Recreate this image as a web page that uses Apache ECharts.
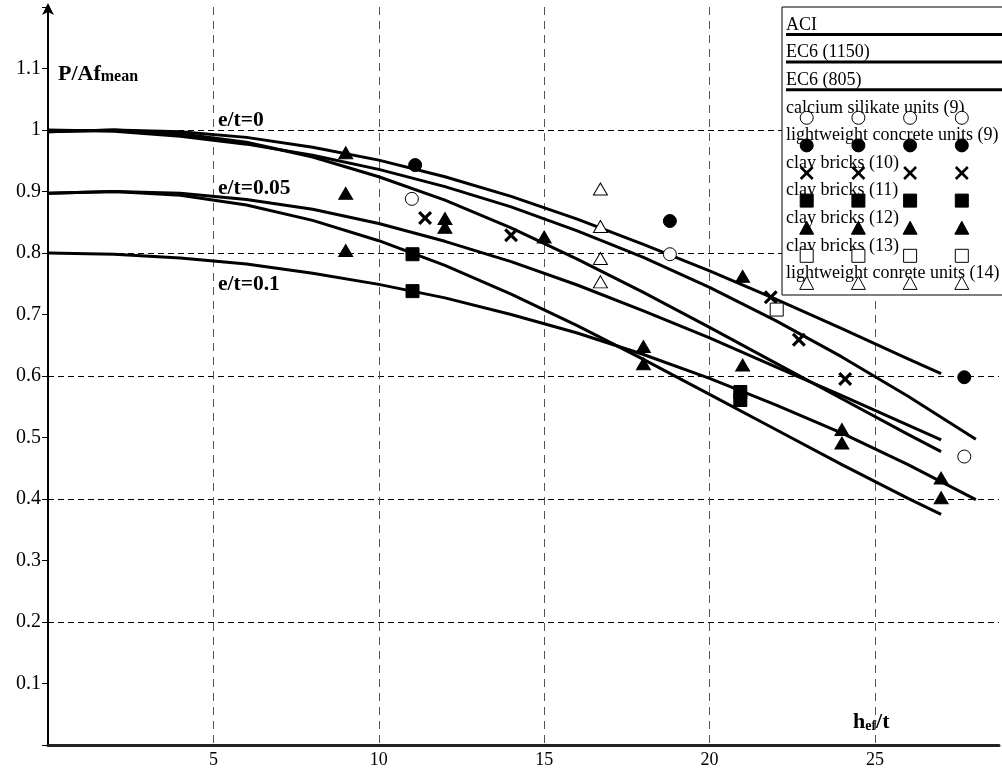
<!DOCTYPE html>
<html>
<head>
<meta charset="utf-8">
<script src="https://cdn.jsdelivr.net/npm/echarts@6/dist/echarts.min.js"></script>
<style>
html, body { margin: 0; padding: 0; background: #fff; }
#main { width: 1002px; height: 771px; }
</style>
</head>
<body>
<div id="main"></div>
<script>
// design curves, x = h_ef/t, y = P/Af_mean
var curveX = [0, 2, 4, 6, 8, 10, 12, 14, 16, 18, 20, 22, 24, 26, 27];
var curveXLong = [0, 2, 4, 6, 8, 10, 12, 14, 16, 18, 20, 22, 24, 26, 28.05];

var ec6_1150_e0 = [0.997, 1.0, 0.997, 0.988, 0.972, 0.951, 0.924, 0.892, 0.855, 0.814, 0.771, 0.725, 0.677, 0.628, 0.604];
var aci_e0 = [1.0, 0.998, 0.99, 0.977, 0.959, 0.936, 0.908, 0.875, 0.836, 0.793, 0.744, 0.69, 0.631, 0.567, 0.497];
var ec6_805_e0 = [0.997, 1.0, 0.994, 0.98, 0.956, 0.924, 0.886, 0.841, 0.79, 0.736, 0.679, 0.621, 0.563, 0.505, 0.477];
var ec6_1150_e005 = [0.897, 0.9, 0.897, 0.887, 0.871, 0.848, 0.819, 0.786, 0.748, 0.706, 0.662, 0.615, 0.568, 0.52, 0.496];
var ec6_805_e005 = [0.897, 0.9, 0.894, 0.878, 0.853, 0.82, 0.78, 0.733, 0.682, 0.627, 0.57, 0.513, 0.456, 0.401, 0.375];
var aci_e01 = [0.8, 0.798, 0.792, 0.782, 0.767, 0.749, 0.727, 0.7, 0.67, 0.635, 0.596, 0.553, 0.507, 0.456, 0.399];

// test results
var calciumSilicate9 = [[11.0, 0.888], [18.8, 0.798], [27.7, 0.469]];
var lightweightConcrete9 = [[11.1, 0.943], [18.8, 0.852], [27.7, 0.598]];
var clayBricks10 = [[11.4, 0.857], [14.0, 0.829], [21.85, 0.728], [22.7, 0.659], [24.1, 0.595]];
var clayBricks11 = [[11.02, 0.798], [11.02, 0.738], [20.93, 0.574], [20.93, 0.561]];
var clayBricks12 = [[9.0, 0.963], [9.0, 0.897], [9.0, 0.804], [12.0, 0.856], [12.0, 0.842], [15.0, 0.826], [18.0, 0.648], [18.0, 0.62], [21.0, 0.762], [21.0, 0.618], [24.0, 0.513], [24.0, 0.491], [27.0, 0.434], [27.0, 0.402]];
var clayBricks13 = [[22.03, 0.708]];
var lightweightConcrete14 = [[16.7, 0.904], [16.7, 0.843], [16.7, 0.791], [16.7, 0.753]];

var xTicks = [5, 10, 15, 20, 25];
var yTicks = [0.1, 0.2, 0.3, 0.4, 0.5, 0.6, 0.7, 0.8, 0.9, 1, 1.1];

var legendLines = ['ACI', 'EC6 (1150)', 'EC6 (805)'];
var legendMarks = [
  ['calcium silikate units (9)', 'openCircle'],
  ['lightweight concrete units (9)', 'filledCircle'],
  ['clay bricks (10)', 'cross'],
  ['clay bricks (11)', 'filledSquare'],
  ['clay bricks (12)', 'filledTriangle'],
  ['clay bricks (13)', 'openSquare'],
  ['lightweight conrete units (14)', 'openTriangle']
];

var serif = '"Liberation Serif", "DejaVu Serif", serif';
// filled X outline so it renders solid black
var crossPath = 'path://M0,1.6L1.6,0L5,3.4L8.4,0L10,1.6L6.6,5L10,8.4L8.4,10L5,6.6L1.6,10L0,8.4L3.4,5Z';

function pairs(xs, ys) {
  return xs.map(function (x, i) { return [x, ys[i]]; });
}

function curve(name, xs, ys) {
  return {
    name: name, type: 'line', data: pairs(xs, ys), showSymbol: false,
    smooth: false,
    lineStyle: { color: '#000', width: 3, join: 'round' }, z: 3, silent: true
  };
}

function points(name, data, symbol, fill, size) {
  var s = {
    name: name, type: 'scatter', data: data, symbol: symbol, symbolSize: size || 13,
    itemStyle: { color: fill, borderColor: '#000', borderWidth: 1, opacity: 1 },
    z: 5
  };
  if (symbol === crossPath) {
    s.itemStyle = { color: '#000', borderWidth: 0, opacity: 1 };
    s.symbolSize = 14;
  }
  return s;
}

// legend markers (graphic, not data)
function legendMarker(kind, cx, cy) {
  var st = { fill: '#000', stroke: '#000', lineWidth: 1 };
  if (kind.indexOf('open') === 0) st.fill = '#fff';
  if (kind === 'openCircle' || kind === 'filledCircle') {
    return { type: 'circle', shape: { cx: cx, cy: cy, r: 6.5 }, style: st, z: 101 };
  }
  if (kind === 'openSquare' || kind === 'filledSquare') {
    return { type: 'rect', shape: { x: cx - 6.5, y: cy - 6.5, width: 13, height: 13 }, style: st, z: 101 };
  }
  if (kind === 'openTriangle' || kind === 'filledTriangle') {
    return { type: 'polygon', shape: { points: [[cx, cy - 7], [cx + 7, cy + 6], [cx - 7, cy + 6]] }, style: st, z: 101 };
  }
  return {
    type: 'group', z: 101, children: [
      { type: 'line', shape: { x1: cx - 6, y1: cy - 6, x2: cx + 6, y2: cy + 6 }, style: { stroke: '#000', lineWidth: 2.6 }, z: 101 },
      { type: 'line', shape: { x1: cx + 6, y1: cy - 6, x2: cx - 6, y2: cy + 6 }, style: { stroke: '#000', lineWidth: 2.6 }, z: 101 }
    ]
  };
}

var graphics = [];
var boxX = 782, boxY = 7, rowH = 27.6, textX = 786;
graphics.push({ type: 'rect', shape: { x: boxX, y: boxY, width: 240, height: 288 }, style: { fill: '#fff', stroke: '#000', lineWidth: 1 }, z: 100 });
legendLines.forEach(function (name, i) {
  var ty = 25 + i * rowH;
  graphics.push({ type: 'text', x: textX, y: ty, style: { text: name, font: '18px ' + serif, fill: '#000', textVerticalAlign: 'middle' }, z: 101 });
  graphics.push({ type: 'line', shape: { x1: textX, y1: ty + 9.5, x2: 1002, y2: ty + 9.5 }, style: { stroke: '#000', lineWidth: 3 }, z: 101 });
});
legendMarks.forEach(function (item, j) {
  var ty = 25 + (j + 3) * rowH;
  graphics.push({ type: 'text', x: textX, y: ty, style: { text: item[0], font: '18px ' + serif, fill: '#000', textVerticalAlign: 'middle' }, z: 101 });
  for (var k = 0; k < 4; k++) {
    graphics.push(legendMarker(item[1], 806.7 + k * 51.7, ty + 10));
  }
});

// axis titles and curve labels
graphics.push({
  type: 'text', x: 58, y: 74, z: 50,
  style: {
    text: '{a|P/Af}{b|mean}', textVerticalAlign: 'middle',
    rich: {
      a: { font: 'bold 22px ' + serif, fill: '#000' },
      b: { font: 'bold 16px ' + serif, fill: '#000', verticalAlign: 'bottom', padding: [6, 0, 0, 0] }
    }
  }
});
graphics.push({
  type: 'text', x: 853, y: 722, z: 50,
  style: {
    text: '{a|h}{b|ef}{a|/t}', textVerticalAlign: 'middle',
    rich: {
      a: { font: 'bold 22px ' + serif, fill: '#000' },
      b: { font: 'bold 14px ' + serif, fill: '#000', verticalAlign: 'bottom', padding: [6, 0, 0, 0] }
    }
  }
});
[['e/t=0', 120], ['e/t=0.05', 188], ['e/t=0.1', 284]].forEach(function (l) {
  graphics.push({ type: 'text', x: 218, y: l[1], z: 50, style: { text: l[0], font: 'bold 21.5px ' + serif, fill: '#000', textVerticalAlign: 'middle' } });
});

var option = {
  animation: false,
  backgroundColor: '#fff',
  grid: { left: 48, right: 0, top: 7, bottom: 26 },
  xAxis: {
    type: 'value', min: 0, max: 28.75, interval: 5,
    axisLine: { onZero: false, lineStyle: { color: '#222', width: 3 } },
    axisTick: { show: false },
    axisLabel: {
      color: '#000', fontFamily: serif, fontSize: 18, margin: 6,
      formatter: function (v) { return xTicks.indexOf(v) >= 0 ? String(v) : ''; }
    },
    splitLine: { show: true, showMaxLine: false, showMinLine: false, lineStyle: { color: '#555', type: [8, 6], width: 1 } }
  },
  yAxis: [{
    type: 'value', min: 0, max: 1.2, interval: 0.1,
    axisLine: { show: true, onZero: false, symbol: ['none', 'arrow'], symbolSize: [9, 12], symbolOffset: [0, 4], lineStyle: { color: '#000', width: 2 } },
    axisTick: { show: true, length: 6, lineStyle: { color: '#000', width: 1 } },
    axisLabel: {
      color: '#000', fontFamily: serif, fontSize: 20, margin: 7,
      formatter: function (v) {
        var r = Math.round(v * 10) / 10;
        return yTicks.indexOf(r) >= 0 ? String(r) : '';
      }
    },
    splitLine: { show: false }
  }, {
    type: 'value', min: 0, max: 1.2, interval: 0.2, position: 'left',
    axisLine: { show: false }, axisTick: { show: false }, axisLabel: { show: false },
    splitLine: { show: true, showMaxLine: false, showMinLine: false, lineStyle: { color: '#000', type: [6, 4], width: 1 } }
  }],
  series: [
    curve('EC6 (1150)', curveX, ec6_1150_e0),
    curve('ACI', curveXLong, aci_e0),
    curve('EC6 (805)', curveX, ec6_805_e0),
    curve('EC6 (1150)', curveX, ec6_1150_e005),
    curve('EC6 (805)', curveX, ec6_805_e005),
    curve('ACI', curveXLong, aci_e01),
    points('calcium silikate units (9)', calciumSilicate9, 'circle', '#fff'),
    points('lightweight concrete units (9)', lightweightConcrete9, 'circle', '#000'),
    points('clay bricks (10)', clayBricks10, crossPath, '#000'),
    points('clay bricks (11)', clayBricks11, 'rect', '#000', 13),
    points('clay bricks (12)', clayBricks12, 'triangle', '#000', [14, 12]),
    points('clay bricks (13)', clayBricks13, 'rect', '#fff', 13),
    points('lightweight conrete units (14)', lightweightConcrete14, 'triangle', '#fff', [14, 12])
  ],
  graphic: graphics
};

var chart = echarts.init(document.getElementById('main'), null, { renderer: 'canvas' });
chart.setOption(option);
</script>
</body>
</html>
